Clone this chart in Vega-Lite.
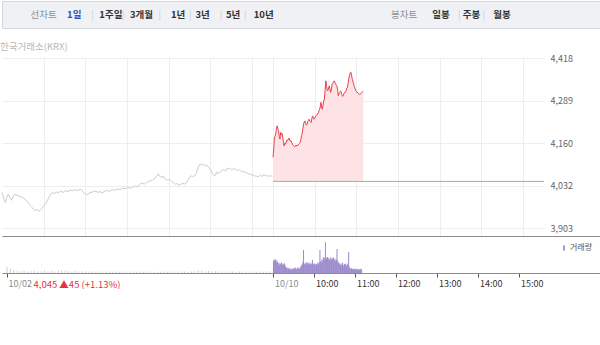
{
  "$schema": "https://vega.github.io/schema/vega-lite/v6.json",
  "padding": 0,
  "config": {
    "font": "Noto Sans CJK KR",
    "view": {"stroke": null},
    "axis": {"labelFont": "Noto Sans CJK KR", "titleFont": "Noto Sans CJK KR"}
  },
  "resolve": {"scale": {"color": "independent", "x": "independent", "y": "independent"}, "legend": {"color": "independent"}},
  "datasets": {
    "tabs": [
      {"k": "선차트", "label": "선차트", "role": "muted"},
      {"k": "1일", "label": "1일", "role": "active"},
      {"k": "|1", "label": "|", "role": "sep"},
      {"k": "1주일", "label": "1주일", "role": "item"},
      {"k": "|2", "label": "|", "role": "sep"},
      {"k": "3개월", "label": "3개월", "role": "item"},
      {"k": "|3", "label": "|", "role": "sep"},
      {"k": "1년", "label": "1년", "role": "item"},
      {"k": "|4", "label": "|", "role": "sep"},
      {"k": "3년", "label": "3년", "role": "item"},
      {"k": "|5", "label": "|", "role": "sep"},
      {"k": "5년", "label": "5년", "role": "item"},
      {"k": "|6", "label": "|", "role": "sep"},
      {"k": "10년", "label": "10년", "role": "item"},
      {"k": "봉차트", "label": "봉차트", "role": "muted"},
      {"k": "일봉", "label": "일봉", "role": "item"},
      {"k": "|7", "label": "|", "role": "sep"},
      {"k": "주봉", "label": "주봉", "role": "item"},
      {"k": "|8", "label": "|", "role": "sep"},
      {"k": "월봉", "label": "월봉", "role": "item"}
    ],
    "prev": [
      {"t":-390,"p":4011},{"t":-387,"p":3990},{"t":-385,"p":3981},{"t":-383,"p":3998},{"t":-381,"p":4006},
      {"t":-378,"p":3994},{"t":-376,"p":3988},{"t":-374,"p":4000},{"t":-372,"p":4006},{"t":-368,"p":4003},
      {"t":-364,"p":4000},{"t":-361,"p":3997},{"t":-357,"p":3992},{"t":-354,"p":3985},{"t":-352,"p":3980},
      {"t":-349,"p":3972},{"t":-347,"p":3966},{"t":-345,"p":3962},{"t":-342,"p":3957},{"t":-339,"p":3960},
      {"t":-337,"p":3954},{"t":-335,"p":3958},{"t":-333,"p":3962},{"t":-330,"p":3970},{"t":-327,"p":3978},
      {"t":-325,"p":3986},{"t":-322,"p":3998},{"t":-320,"p":4006},{"t":-318,"p":4011},{"t":-315,"p":4008},
      {"t":-312,"p":4013},{"t":-309,"p":4010},{"t":-306,"p":4015},{"t":-302,"p":4012},{"t":-299,"p":4017},
      {"t":-295,"p":4014},{"t":-292,"p":4019},{"t":-289,"p":4016},{"t":-285,"p":4020},{"t":-281,"p":4017},
      {"t":-277,"p":4022},{"t":-274,"p":4015},{"t":-271,"p":4008},{"t":-268,"p":4005},{"t":-264,"p":4010},
      {"t":-260,"p":4013},{"t":-256,"p":4016},{"t":-252,"p":4012},{"t":-249,"p":4014},{"t":-246,"p":4010},
      {"t":-242,"p":4015},{"t":-238,"p":4018},{"t":-235,"p":4014},{"t":-232,"p":4021},{"t":-228,"p":4018},
      {"t":-224,"p":4022},{"t":-220,"p":4020},{"t":-216,"p":4025},{"t":-213,"p":4023},{"t":-209,"p":4027},
      {"t":-205,"p":4024},{"t":-201,"p":4029},{"t":-198,"p":4031},{"t":-195,"p":4028},{"t":-192,"p":4036},
      {"t":-189,"p":4040},{"t":-185,"p":4037},{"t":-181,"p":4043},{"t":-177,"p":4046},{"t":-173,"p":4050},
      {"t":-170,"p":4055},{"t":-167,"p":4062},{"t":-165,"p":4068},{"t":-163,"p":4060},{"t":-160,"p":4057},
      {"t":-158,"p":4062},{"t":-155,"p":4052},{"t":-152,"p":4049},{"t":-149,"p":4051},{"t":-146,"p":4046},
      {"t":-143,"p":4041},{"t":-140,"p":4036},{"t":-138,"p":4039},{"t":-136,"p":4033},{"t":-133,"p":4036},
      {"t":-130,"p":4039},{"t":-127,"p":4037},{"t":-124,"p":4042},{"t":-122,"p":4050},{"t":-120,"p":4058},
      {"t":-118,"p":4062},{"t":-116,"p":4059},{"t":-114,"p":4061},{"t":-112,"p":4063},{"t":-110,"p":4072},
      {"t":-108,"p":4085},{"t":-106,"p":4095},{"t":-104,"p":4098},{"t":-102,"p":4093},{"t":-100,"p":4097},
      {"t":-97,"p":4092},{"t":-95,"p":4094},{"t":-93,"p":4088},{"t":-91,"p":4083},{"t":-89,"p":4078},
      {"t":-87,"p":4068},{"t":-85,"p":4062},{"t":-83,"p":4064},{"t":-81,"p":4074},{"t":-79,"p":4068},
      {"t":-77,"p":4072},{"t":-74,"p":4077},{"t":-71,"p":4081},{"t":-68,"p":4076},{"t":-66,"p":4084},
      {"t":-63,"p":4085},{"t":-60,"p":4081},{"t":-57,"p":4083},{"t":-54,"p":4082},{"t":-51,"p":4078},
      {"t":-48,"p":4080},{"t":-45,"p":4074},{"t":-42,"p":4075},{"t":-39,"p":4071},{"t":-36,"p":4069},
      {"t":-33,"p":4067},{"t":-30,"p":4065},{"t":-27,"p":4062},{"t":-24,"p":4061},{"t":-21,"p":4059},
      {"t":-18,"p":4064},{"t":-15,"p":4060},{"t":-13,"p":4066},{"t":-10,"p":4062},{"t":-7,"p":4061},
      {"t":-4,"p":4062},{"t":-1,"p":4060}
    ],
    "today": [
      {"t":0,"p":4118},{"t":1,"p":4140},{"t":2,"p":4176},{"t":3,"p":4182},{"t":4,"p":4188},
      {"t":5,"p":4205},{"t":6,"p":4213},{"t":7,"p":4203},{"t":8,"p":4198},{"t":9,"p":4180},
      {"t":10,"p":4173},{"t":11,"p":4193},{"t":12,"p":4186},{"t":13,"p":4190},{"t":14,"p":4178},
      {"t":15,"p":4165},{"t":16,"p":4152},{"t":17,"p":4160},{"t":18,"p":4158},{"t":19,"p":4164},
      {"t":20,"p":4170},{"t":21,"p":4168},{"t":22,"p":4173},{"t":23,"p":4176},{"t":24,"p":4170},
      {"t":25,"p":4167},{"t":26,"p":4168},{"t":27,"p":4162},{"t":28,"p":4158},{"t":29,"p":4154},
      {"t":30,"p":4152},{"t":31,"p":4150},{"t":32,"p":4151},{"t":33,"p":4155},{"t":34,"p":4152},
      {"t":35,"p":4153},{"t":36,"p":4154},{"t":37,"p":4158},{"t":38,"p":4160},{"t":39,"p":4163},
      {"t":40,"p":4170},{"t":41,"p":4183},{"t":42,"p":4190},{"t":43,"p":4205},{"t":44,"p":4218},
      {"t":45,"p":4225},{"t":46,"p":4228},{"t":47,"p":4220},{"t":48,"p":4215},{"t":49,"p":4218},
      {"t":50,"p":4226},{"t":51,"p":4230},{"t":52,"p":4233},{"t":53,"p":4227},{"t":54,"p":4225},
      {"t":55,"p":4223},{"t":56,"p":4236},{"t":57,"p":4243},{"t":58,"p":4238},{"t":59,"p":4233},
      {"t":60,"p":4236},{"t":61,"p":4240},{"t":62,"p":4244},{"t":63,"p":4245},{"t":64,"p":4248},
      {"t":65,"p":4252},{"t":66,"p":4258},{"t":67,"p":4262},{"t":68,"p":4270},{"t":69,"p":4284},
      {"t":70,"p":4270},{"t":71,"p":4263},{"t":72,"p":4275},{"t":73,"p":4288},{"t":74,"p":4294},
      {"t":75,"p":4320},{"t":76,"p":4349},{"t":77,"p":4335},{"t":78,"p":4320},{"t":79,"p":4319},
      {"t":80,"p":4328},{"t":81,"p":4334},{"t":82,"p":4325},{"t":83,"p":4314},{"t":84,"p":4322},
      {"t":85,"p":4339},{"t":86,"p":4341},{"t":87,"p":4345},{"t":88,"p":4349},{"t":89,"p":4345},
      {"t":90,"p":4340},{"t":91,"p":4336},{"t":92,"p":4334},{"t":93,"p":4320},{"t":94,"p":4304},
      {"t":95,"p":4310},{"t":96,"p":4314},{"t":97,"p":4318},{"t":98,"p":4316},{"t":99,"p":4308},
      {"t":100,"p":4302},{"t":101,"p":4305},{"t":102,"p":4310},{"t":103,"p":4314},{"t":104,"p":4314},
      {"t":105,"p":4318},{"t":106,"p":4325},{"t":107,"p":4329},{"t":108,"p":4340},{"t":109,"p":4355},
      {"t":110,"p":4364},{"t":111,"p":4372},{"t":112,"p":4375},{"t":113,"p":4368},{"t":114,"p":4354},
      {"t":115,"p":4348},{"t":116,"p":4340},{"t":117,"p":4332},{"t":118,"p":4326},{"t":119,"p":4320},
      {"t":120,"p":4316},{"t":121,"p":4316},{"t":122,"p":4312},{"t":123,"p":4310},{"t":124,"p":4309},
      {"t":125,"p":4308},{"t":126,"p":4310},{"t":127,"p":4311},{"t":128,"p":4314},{"t":129,"p":4316},
      {"t":130,"p":4317}
    ],
    "vol": [
      {"t":-390,"v":20,"s":"전일"},{"t":-385,"v":14,"s":"전일"},{"t":-380,"v":9,"s":"전일"},{"t":-375,"v":7,"s":"전일"},{"t":-370,"v":6,"s":"전일"},
      {"t":-365,"v":8,"s":"전일"},{"t":-360,"v":5,"s":"전일"},{"t":-355,"v":6,"s":"전일"},{"t":-350,"v":7,"s":"전일"},{"t":-345,"v":5,"s":"전일"},
      {"t":-340,"v":6,"s":"전일"},{"t":-335,"v":8,"s":"전일"},{"t":-330,"v":6,"s":"전일"},{"t":-325,"v":7,"s":"전일"},{"t":-320,"v":5,"s":"전일"},
      {"t":-315,"v":8,"s":"전일"},{"t":-310,"v":10,"s":"전일"},{"t":-305,"v":7,"s":"전일"},{"t":-300,"v":6,"s":"전일"},{"t":-295,"v":5,"s":"전일"},
      {"t":-290,"v":7,"s":"전일"},{"t":-285,"v":6,"s":"전일"},{"t":-280,"v":5,"s":"전일"},{"t":-275,"v":6,"s":"전일"},{"t":-270,"v":5,"s":"전일"},
      {"t":-265,"v":4,"s":"전일"},{"t":-260,"v":5,"s":"전일"},{"t":-255,"v":5,"s":"전일"},{"t":-250,"v":4,"s":"전일"},{"t":-245,"v":5,"s":"전일"},
      {"t":-240,"v":4,"s":"전일"},{"t":-235,"v":5,"s":"전일"},{"t":-230,"v":4,"s":"전일"},{"t":-225,"v":4,"s":"전일"},{"t":-220,"v":5,"s":"전일"},
      {"t":-215,"v":4,"s":"전일"},{"t":-210,"v":5,"s":"전일"},{"t":-205,"v":4,"s":"전일"},{"t":-200,"v":4,"s":"전일"},{"t":-195,"v":5,"s":"전일"},
      {"t":-190,"v":4,"s":"전일"},{"t":-185,"v":5,"s":"전일"},{"t":-180,"v":4,"s":"전일"},{"t":-175,"v":4,"s":"전일"},{"t":-170,"v":3,"s":"전일"},
      {"t":-165,"v":3,"s":"전일"},{"t":-160,"v":5,"s":"전일"},{"t":-155,"v":4,"s":"전일"},{"t":-150,"v":5,"s":"전일"},{"t":-145,"v":4,"s":"전일"},
      {"t":-140,"v":5,"s":"전일"},{"t":-135,"v":4,"s":"전일"},{"t":-130,"v":5,"s":"전일"},{"t":-125,"v":4,"s":"전일"},{"t":-120,"v":5,"s":"전일"},
      {"t":-115,"v":7,"s":"전일"},{"t":-110,"v":8,"s":"전일"},{"t":-105,"v":7,"s":"전일"},{"t":-100,"v":6,"s":"전일"},{"t":-95,"v":7,"s":"전일"},
      {"t":-90,"v":5,"s":"전일"},{"t":-85,"v":6,"s":"전일"},{"t":-80,"v":5,"s":"전일"},{"t":-75,"v":4,"s":"전일"},{"t":-70,"v":5,"s":"전일"},
      {"t":-65,"v":4,"s":"전일"},{"t":-60,"v":5,"s":"전일"},{"t":-55,"v":4,"s":"전일"},{"t":-50,"v":5,"s":"전일"},{"t":-45,"v":4,"s":"전일"},
      {"t":-40,"v":5,"s":"전일"},{"t":-35,"v":4,"s":"전일"},{"t":-30,"v":5,"s":"전일"},{"t":-25,"v":4,"s":"전일"},{"t":-20,"v":5,"s":"전일"},
      {"t":-15,"v":4,"s":"전일"},{"t":-10,"v":5,"s":"전일"},{"t":-5,"v":6,"s":"전일"},
      {"t":0,"v":40,"s":"거래량"},{"t":1,"v":45,"s":"거래량"},{"t":2,"v":38,"s":"거래량"},{"t":3,"v":44,"s":"거래량"},{"t":4,"v":35,"s":"거래량"},{"t":5,"v":41,"s":"거래량"},
      {"t":6,"v":36,"s":"거래량"},{"t":7,"v":30,"s":"거래량"},{"t":8,"v":33,"s":"거래량"},{"t":9,"v":27,"s":"거래량"},{"t":10,"v":31,"s":"거래량"},{"t":11,"v":29,"s":"거래량"},
      {"t":12,"v":34,"s":"거래량"},{"t":13,"v":26,"s":"거래량"},{"t":14,"v":30,"s":"거래량"},{"t":15,"v":28,"s":"거래량"},{"t":16,"v":32,"s":"거래량"},{"t":17,"v":24,"s":"거래량"},
      {"t":18,"v":20,"s":"거래량"},{"t":19,"v":16,"s":"거래량"},{"t":20,"v":18,"s":"거래량"},{"t":21,"v":13,"s":"거래량"},{"t":22,"v":15,"s":"거래량"},{"t":23,"v":12,"s":"거래량"},
      {"t":24,"v":17,"s":"거래량"},{"t":25,"v":11,"s":"거래량"},{"t":26,"v":14,"s":"거래량"},{"t":27,"v":10,"s":"거래량"},{"t":28,"v":13,"s":"거래량"},{"t":29,"v":16,"s":"거래량"},
      {"t":30,"v":12,"s":"거래량"},{"t":31,"v":15,"s":"거래량"},{"t":32,"v":18,"s":"거래량"},{"t":33,"v":14,"s":"거래량"},{"t":34,"v":12,"s":"거래량"},{"t":35,"v":16,"s":"거래량"},
      {"t":36,"v":19,"s":"거래량"},{"t":37,"v":15,"s":"거래량"},{"t":38,"v":13,"s":"거래량"},{"t":39,"v":17,"s":"거래량"},{"t":40,"v":21,"s":"거래량"},{"t":41,"v":24,"s":"거래량"},
      {"t":42,"v":28,"s":"거래량"},{"t":43,"v":35,"s":"거래량"},{"t":44,"v":75,"s":"거래량"},{"t":45,"v":30,"s":"거래량"},{"t":46,"v":27,"s":"거래량"},{"t":47,"v":33,"s":"거래량"},
      {"t":48,"v":29,"s":"거래량"},{"t":49,"v":36,"s":"거래량"},{"t":50,"v":31,"s":"거래량"},{"t":51,"v":28,"s":"거래량"},{"t":52,"v":34,"s":"거래량"},{"t":53,"v":30,"s":"거래량"},
      {"t":54,"v":27,"s":"거래량"},{"t":55,"v":32,"s":"거래량"},{"t":56,"v":29,"s":"거래량"},{"t":57,"v":42,"s":"거래량"},{"t":58,"v":30,"s":"거래량"},{"t":59,"v":27,"s":"거래량"},
      {"t":60,"v":31,"s":"거래량"},{"t":61,"v":28,"s":"거래량"},{"t":62,"v":25,"s":"거래량"},{"t":63,"v":30,"s":"거래량"},{"t":64,"v":27,"s":"거래량"},{"t":65,"v":33,"s":"거래량"},
      {"t":66,"v":29,"s":"거래량"},{"t":67,"v":36,"s":"거래량"},{"t":68,"v":75,"s":"거래량"},{"t":69,"v":38,"s":"거래량"},{"t":70,"v":34,"s":"거래량"},{"t":71,"v":45,"s":"거래량"},
      {"t":72,"v":40,"s":"거래량"},{"t":73,"v":52,"s":"거래량"},{"t":74,"v":44,"s":"거래량"},{"t":75,"v":48,"s":"거래량"},{"t":76,"v":100,"s":"거래량"},{"t":77,"v":50,"s":"거래량"},
      {"t":78,"v":46,"s":"거래량"},{"t":79,"v":52,"s":"거래량"},{"t":80,"v":44,"s":"거래량"},{"t":81,"v":49,"s":"거래량"},{"t":82,"v":42,"s":"거래량"},{"t":83,"v":47,"s":"거래량"},
      {"t":84,"v":51,"s":"거래량"},{"t":85,"v":43,"s":"거래량"},{"t":86,"v":48,"s":"거래량"},{"t":87,"v":45,"s":"거래량"},{"t":88,"v":50,"s":"거래량"},{"t":89,"v":42,"s":"거래량"},
      {"t":90,"v":46,"s":"거래량"},{"t":91,"v":39,"s":"거래량"},{"t":92,"v":44,"s":"거래량"},{"t":93,"v":78,"s":"거래량"},{"t":94,"v":40,"s":"거래량"},{"t":95,"v":34,"s":"거래량"},
      {"t":96,"v":28,"s":"거래량"},{"t":97,"v":32,"s":"거래량"},{"t":98,"v":26,"s":"거래량"},{"t":99,"v":30,"s":"거래량"},{"t":100,"v":24,"s":"거래량"},{"t":101,"v":33,"s":"거래량"},
      {"t":102,"v":27,"s":"거래량"},{"t":103,"v":22,"s":"거래량"},{"t":104,"v":29,"s":"거래량"},{"t":105,"v":25,"s":"거래량"},{"t":106,"v":31,"s":"거래량"},{"t":107,"v":23,"s":"거래량"},
      {"t":108,"v":27,"s":"거래량"},{"t":109,"v":30,"s":"거래량"},{"t":110,"v":68,"s":"거래량"},{"t":111,"v":20,"s":"거래량"},{"t":112,"v":15,"s":"거래량"},{"t":113,"v":13,"s":"거래량"},
      {"t":114,"v":16,"s":"거래량"},{"t":115,"v":12,"s":"거래량"},{"t":116,"v":14,"s":"거래량"},{"t":117,"v":11,"s":"거래량"},{"t":118,"v":13,"s":"거래량"},{"t":119,"v":15,"s":"거래량"},
      {"t":120,"v":12,"s":"거래량"},{"t":121,"v":10,"s":"거래량"},{"t":122,"v":14,"s":"거래량"},{"t":123,"v":11,"s":"거래량"},{"t":124,"v":13,"s":"거래량"},{"t":125,"v":12,"s":"거래량"},
      {"t":126,"v":10,"s":"거래량"},{"t":127,"v":14,"s":"거래량"},{"t":128,"v":12,"s":"거래량"},{"t":129,"v":11,"s":"거래량"}
    ]
  },
  "spacing": 13,
  "vconcat": [
    {
      "width": 600,
      "height": 27,
      "view": {"fill": "#eff1f5", "stroke": "#d3d6dc"},
      "data": {"name": "tabs"},
      "encoding": {
        "x": {
          "field": "k",
          "type": "ordinal",
          "axis": null,
          "scale": {
            "type": "point",
            "padding": 0,
            "range": [41.7, 500],
            "domain": ["선차트","_1","_2","_3","_4","1일","_6","_7","|1","_9","_10","1주일","_12","|2","_14","_15","3개월","_17","_18","|3","_20","_21","1년","_23","|4","_25","3년","_27","_28","|5","_30","5년","_32","|6","_34","_35","10년","_37","_38","_39","_40","_41","_42","_43","_44","_45","_46","_47","_48","_49","_50","_51","_52","_53","_54","_55","_56","_57","_58","봉차트","_60","_61","_62","_63","_64","일봉","_66","_67","|7","_69","주봉","_71","|8","_73","_74","월봉"]
          }
        },
        "text": {"field": "label"},
        "color": {
          "field": "role",
          "type": "nominal",
          "legend": null,
          "scale": {"domain": ["muted", "active", "item", "sep"], "range": ["#8a8f99", "#2f55c8", "#333333", "#c8ccd3"]}
        }
      },
      "layer": [
        {
          "transform": [{"filter": "datum.role == 'muted' || datum.role == 'sep'"}],
          "mark": {"type": "text", "fontSize": 9.5, "font": "Noto Sans CJK KR"}
        },
        {
          "transform": [{"filter": "datum.role == 'active' || datum.role == 'item'"}],
          "mark": {"type": "text", "fontSize": 9.5, "fontWeight": "bold", "font": "Noto Sans CJK KR"}
        }
      ]
    },
    {
      "spacing": 0,
      "resolve": {"scale": {"color": "independent", "x": "independent", "y": "independent"}, "legend": {"color": "independent"}},
      "vconcat": [
        {
          "width": 542,
          "height": 178,
          "title": {"text": "한국거래소(KRX)", "anchor": "start", "fontSize": 9.5, "color": "#b8b8b8", "fontWeight": "normal", "offset": 0.5, "dy": -2, "font": "Noto Sans CJK KR"},
          "encoding": {
            "x": {
              "field": "t",
              "type": "quantitative",
              "scale": {"domain": [-390, 390], "nice": false, "zero": false},
              "axis": {"values": [-330, -270, -210, -150, -90, -30, 0, 60, 120, 180, 240, 300, 360], "grid": true, "gridColor": "#eeeeee", "labels": false, "ticks": false, "domain": false, "title": null}
            },
            "y": {
              "field": "p",
              "type": "quantitative",
              "scale": {"domain": [3880, 4418], "nice": false, "zero": false},
              "axis": {"orient": "right", "values": [3903, 4032, 4160, 4289, 4418], "format": ",d", "grid": true, "gridColor": "#eeeeee", "domain": false, "ticks": false, "labelPadding": 6, "labelColor": "#666666", "labelFontSize": 9, "title": null}
            }
          },
          "layer": [
            {
              "data": {"name": "prev"},
              "mark": {"type": "line", "color": "#cccccc", "strokeWidth": 1}
            },
            {
              "data": {"name": "today"},
              "mark": {"type": "area", "color": "#fde3e6", "opacity": 1},
              "encoding": {"y2": {"datum": 4045}}
            },
            {
              "data": {"values": [{"open": 0, "close": 390, "prevClose": 4045}]},
              "mark": {"type": "rule", "color": "#a9a9a9", "strokeWidth": 1},
              "encoding": {
                "x": {"field": "open", "type": "quantitative"},
                "x2": {"field": "close"},
                "y": {"field": "prevClose", "type": "quantitative"}
              }
            },
            {
              "data": {"name": "today"},
              "mark": {"type": "line", "color": "#e8404a", "strokeWidth": 1}
            }
          ]
        },
        {
          "width": 600,
          "height": 37,
          "data": {"name": "vol"},
          "resolve": {"axis": {"x": "independent"}},
          "encoding": {
            "y": {"field": "v", "type": "quantitative", "stack": null, "scale": {"domain": [0, 120]}, "axis": null},
            "color": {
              "field": "s",
              "type": "nominal",
              "scale": {"domain": ["전일", "거래량"], "range": ["#cfcfcf", "#9b88cc"]},
              "legend": {"values": ["거래량"], "orient": "none", "legendX": 558, "legendY": 8, "title": null, "padding": 0, "labelFontSize": 8, "labelColor": "#555555", "labelOffset": 2, "symbolType": "M-0.35,-1L0.35,-1L0.35,1L-0.35,1Z", "symbolSize": 25, "symbolStrokeWidth": 0}
            }
          },
          "layer": [
            {
              "transform": [{"filter": "datum.s == '전일'"}],
              "mark": {"type": "bar", "width": 1},
              "encoding": {
                "x": {
                  "field": "t",
                  "type": "quantitative",
                  "scale": {"domain": [-390, 473.5], "nice": false, "zero": false},
                  "axis": {
                    "orient": "bottom",
                    "values": [-390, 0, 60, 120, 180, 240, 300, 360],
                    "labelExpr": "datum.value == -390 ? '10/02' : (datum.value == 0 ? '10/10' : (9 + datum.value / 60) + ':00')",
                    "labelAlign": "left",
                    "labelFlush": false,
                    "labelOverlap": false,
                    "labelOffset": 1,
                    "labelPadding": 2,
                    "labelFontSize": 9,
                    "labelColor": {"condition": {"test": "datum.value <= 0", "value": "#8c8c8c"}, "value": "#333333"},
                    "tickSize": 4,
                    "tickColor": "#555555",
                    "domainColor": "#8a8a8a",
                    "grid": false,
                    "title": "4,045 ▲45 (+1.13%)",
                    "titleColor": "#e8333f",
                    "titleFontSize": 9.5,
                    "titleFontWeight": "normal",
                    "titleAlign": "left",
                    "titleBaseline": "middle",
                    "titleX": 31,
                    "titleY": 11
                  }
                }
              }
            },
            {
              "transform": [{"filter": "datum.s == '거래량'"}],
              "mark": {"type": "bar", "width": 1},
              "encoding": {
                "x": {
                  "field": "t",
                  "type": "quantitative",
                  "axis": {"orient": "top", "labels": false, "ticks": false, "domain": true, "domainColor": "#8a8a8a", "grid": false, "title": null}
                }
              }
            }
          ]
        }
      ]
    }
  ]
}
